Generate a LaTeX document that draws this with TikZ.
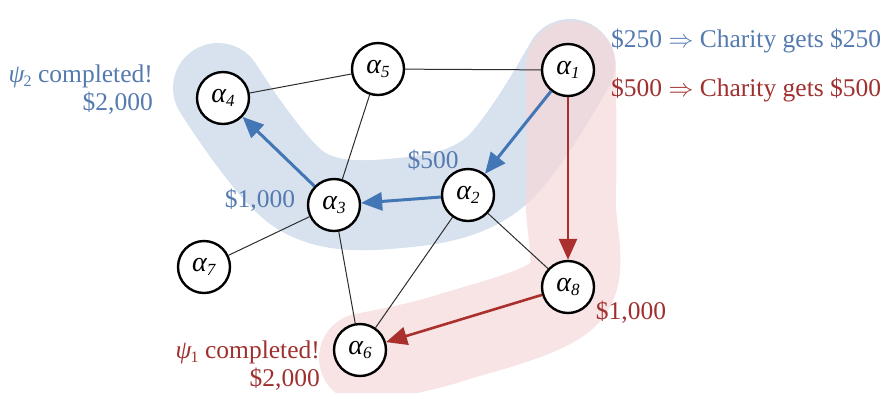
\documentclass[tikz,border=0pt]{standalone}
\usepackage{fontspec}
\setmainfont{Liberation Serif}
\usetikzlibrary{arrows.meta}
\definecolor{bband}{RGB}{216,226,239}
\definecolor{rband}{RGB}{245,216,216}
\definecolor{barrow}{RGB}{66,118,180}
\definecolor{rarrow}{RGB}{170,48,45}
\definecolor{btext}{RGB}{84,122,175}
\definecolor{rtext}{RGB}{160,48,48}
\definecolor{edgec}{RGB}{45,45,45}
\newcommand\ag[1]{\textit{α}\kern-0.5pt\raisebox{-0.35ex}{\fontsize{17}{18}\selectfont\textit{#1}}}
\newcommand\ps[1]{\textit{ψ}\kern-1pt\raisebox{-0.35ex}{\fontsize{16}{17}\selectfont #1}}
\begin{document}
\begin{tikzpicture}[x=1pt,y=-1pt,
  agent/.style={circle,draw=black,line width=2.4pt,fill=white,minimum size=52pt,inner sep=0pt,font=\fontsize{28}{30}\selectfont},
  link/.style={draw=edgec,line width=1pt},
  barr/.style={draw=barrow,line width=3pt,-{Triangle[length=21pt,width=18pt]}},
  rarr/.style={draw=rarrow,line width=2.6pt,-{Triangle[length=21pt,width=18pt]}},
  lab/.style={font=\fontsize{25.5}{28}\selectfont,inner sep=0pt},
  band/.style={line width=90pt,line cap=round,line join=round}
]
\useasboundingbox (0,0) rectangle (886,392);

% shaded bands
\draw[band,bband] plot[smooth,tension=0.6] coordinates {(218,88) (300,190) (400,203) (495,172) (570,64)};
\draw[band,rband,opacity=0.7] plot[smooth,tension=0.55] coordinates {(571,66) (571,200) (566,292) (450,338) (364,358)};

% nodes
\node[agent] (a1) at (568,70) {\ag{1}};
\node[agent] (a5) at (378,69) {\ag{5}};
\node[agent] (a4) at (223,98) {\ag{4}};
\node[agent] (a3) at (334,205) {\ag{3}};
\node[agent] (a2) at (468,195) {\ag{2}};
\node[agent] (a7) at (204,267) {\ag{7}};
\node[agent] (a8) at (568,287) {\ag{8}};
\node[agent] (a6) at (360,350) {\ag{6}};

% plain links
\draw[link] (a4) -- (a5);
\draw[link] (a5) -- (a1);
\draw[link] (a5) -- (a3);
\draw[link] (a3) -- (a7);
\draw[link] (a3) -- (a6);
\draw[link] (a2) -- (a6);
\draw[link] (a2) -- (a8);

% payment arrows
\draw[barr] (a1) -- (a2);
\draw[barr] (a2) -- (a3);
\draw[barr] (a3) -- (a4);
\draw[rarr] (a1) -- (a8);
\draw[rarr] (a8) -- (a6);

% labels
\node[lab,text=btext,anchor=west] (l250) at (611,41) {\$250 $\Rightarrow$ Charity gets \$250};
\node[lab,text=rtext,anchor=west] (l500) at (611,90) {\$500 $\Rightarrow$ Charity gets \$500};
\node[lab,text=btext,anchor=east,align=right] (psi2) at (153,90) {\ps{2} completed!\\\$2,000};
\node[lab,text=rtext,anchor=east,align=right] (psi1) at (320,366) {\ps{1} completed!\\\$2,000};
\node[lab,text=btext] (b500) at (433,160) {\$500};
\node[lab,text=btext] (b1000) at (260,200) {\$1,000};
\node[lab,text=rtext] (r1000) at (631,312) {\$1,000};
\end{tikzpicture}
\end{document}
